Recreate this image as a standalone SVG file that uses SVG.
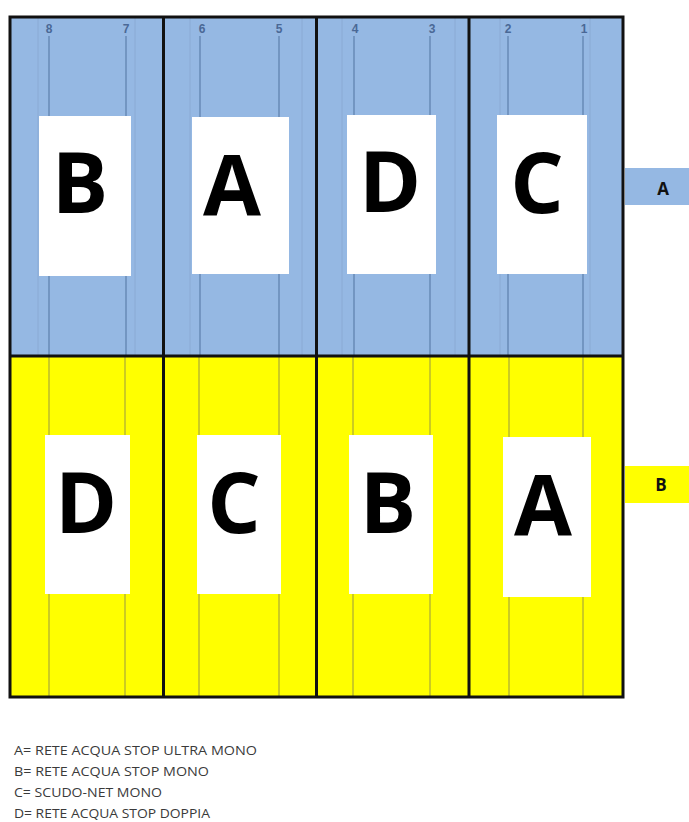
<svg xmlns="http://www.w3.org/2000/svg" width="689" height="822" viewBox="0 0 689 822">
<style>
.blue{fill:#95b8e3}
.yellow{fill:#ffff00}
.frame{fill:none;stroke:#111;stroke-width:3}
.ln-b{stroke:#5d7fab;stroke-width:1.2}
.ln-bf{stroke:#8aaad4;stroke-width:1}
.ln-y{stroke:#a8a83a;stroke-width:1.2}
.box{fill:#ffffff}
.big{font-family:"Open Sans","Noto Sans",Arial,sans-serif;font-weight:bold;font-size:84px;fill:#000;text-anchor:middle}
.num{font-family:"Liberation Sans",Arial,sans-serif;font-weight:bold;font-size:12px;fill:#4a6896;text-anchor:middle}
.tab{font-family:"Open Sans","Liberation Sans",Arial,sans-serif;font-weight:bold;font-size:17px;fill:#111;text-anchor:middle}
.leg{font-family:"Open Sans","Liberation Sans",Arial,sans-serif;font-size:12.5px;fill:#3a3a3a}
</style>
<rect width="689" height="822" fill="#ffffff"/>
<g id="row-a">
<rect class="blue" x="10" y="17" width="613" height="339"/>
</g>
<g id="row-b">
<rect class="yellow" x="10" y="356" width="613" height="341"/>
</g>
<g id="connectors">
<g class="ln-bf">
<line x1="38" y1="17" x2="38" y2="356"/><line x1="135" y1="17" x2="135" y2="356"/>
<line x1="190" y1="17" x2="190" y2="356"/><line x1="302" y1="17" x2="302" y2="356"/>
<line x1="342" y1="17" x2="342" y2="356"/><line x1="455" y1="17" x2="455" y2="356"/>
<line x1="500" y1="17" x2="500" y2="356"/><line x1="590" y1="17" x2="590" y2="356"/>
</g>
<g class="ln-b">
<line x1="49" y1="36" x2="49" y2="356"/><line x1="126" y1="36" x2="126" y2="356"/>
<line x1="200" y1="36" x2="200" y2="356"/><line x1="279" y1="36" x2="279" y2="356"/>
<line x1="354" y1="36" x2="354" y2="356"/><line x1="430" y1="36" x2="430" y2="356"/>
<line x1="508" y1="36" x2="508" y2="356"/><line x1="583" y1="36" x2="583" y2="356"/>
</g>
<g class="ln-y">
<line x1="49" y1="356" x2="49" y2="697"/><line x1="125" y1="356" x2="125" y2="697"/>
<line x1="199" y1="356" x2="199" y2="697"/><line x1="279" y1="356" x2="279" y2="697"/>
<line x1="353" y1="356" x2="353" y2="697"/><line x1="430" y1="356" x2="430" y2="697"/>
<line x1="509" y1="356" x2="509" y2="697"/><line x1="583" y1="356" x2="583" y2="697"/>
</g>
</g>
<g id="numbers">
<text class="num" x="49" y="33">8</text>
<text class="num" x="126" y="33">7</text>
<text class="num" x="202" y="33">6</text>
<text class="num" x="279" y="33">5</text>
<text class="num" x="355" y="33">4</text>
<text class="num" x="432" y="33">3</text>
<text class="num" x="508" y="33">2</text>
<text class="num" x="584" y="33">1</text>
</g>
<g id="frame">
<rect class="frame" x="10" y="17" width="613" height="680"/>
<line class="frame" x1="10" y1="356" x2="623" y2="356"/>
<line class="frame" x1="163.5" y1="17" x2="163.5" y2="697"/>
<line class="frame" x1="316.5" y1="17" x2="316.5" y2="697"/>
<line class="frame" x1="469" y1="17" x2="469" y2="697"/>
</g>
<g id="box-a1"><rect class="box" x="39" y="116" width="92" height="160"/><text class="big" x="80" y="213">B</text></g>
<g id="box-a2"><rect class="box" x="192" y="117" width="97" height="157"/><text class="big" x="232" y="215">A</text></g>
<g id="box-a3"><rect class="box" x="347" y="115" width="89" height="159"/><text class="big" x="390" y="212">D</text></g>
<g id="box-a4"><rect class="box" x="497" y="115" width="90" height="159"/><text class="big" x="537" y="213">C</text></g>
<g id="box-b1"><rect class="box" x="45" y="435" width="85" height="159"/><text class="big" x="86" y="533">D</text></g>
<g id="box-b2"><rect class="box" x="197" y="435" width="84" height="159"/><text class="big" x="234" y="533">C</text></g>
<g id="box-b3"><rect class="box" x="349" y="435" width="84" height="159"/><text class="big" x="388" y="533">B</text></g>
<g id="box-b4"><rect class="box" x="503" y="437" width="88" height="160"/><text class="big" x="543" y="535">A</text></g>
<g id="tab-a"><rect class="blue" x="625" y="168" width="64" height="37"/><text class="tab" x="663" y="195">A</text></g>
<g id="tab-b"><rect class="yellow" x="625" y="466" width="64" height="37"/><text class="tab" x="661" y="491">B</text></g>
<g id="legend">
<text class="leg" x="14" y="755" textLength="243" lengthAdjust="spacingAndGlyphs">A= RETE ACQUA STOP ULTRA MONO</text>
<text class="leg" x="14" y="776" textLength="195" lengthAdjust="spacingAndGlyphs">B= RETE ACQUA STOP MONO</text>
<text class="leg" x="14" y="797" textLength="148" lengthAdjust="spacingAndGlyphs">C= SCUDO-NET MONO</text>
<text class="leg" x="14" y="818" textLength="196" lengthAdjust="spacingAndGlyphs">D= RETE ACQUA STOP DOPPIA</text>
</g>
</svg>
